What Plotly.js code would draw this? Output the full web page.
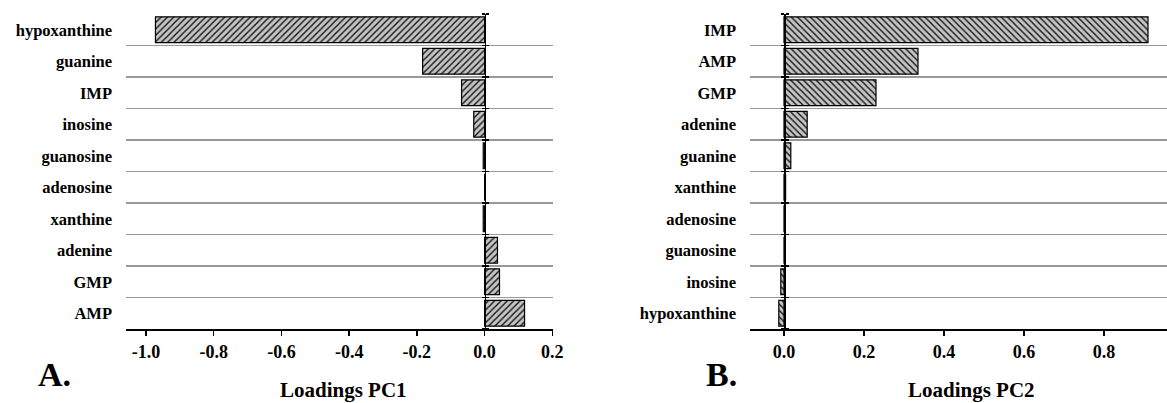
<!DOCTYPE html>
<html>
<head>
<meta charset="utf-8">
<script src="https://cdn.plot.ly/plotly-3.0.1.min.js"></script>
<style>html,body{margin:0;padding:0;background:#fff;}#chart{width:1167px;height:403px;}</style>
</head>
<body>
<div id="chart"></div>
<script>
// ---- data ----
const categoriesPC1 = ['hypoxanthine','guanine','IMP','inosine','guanosine','adenosine','xanthine','adenine','GMP','AMP'];
const loadingsPC1 = [-0.972, -0.183, -0.068, -0.032, -0.004, 0.001, -0.004, 0.038, 0.044, 0.118];
const categoriesPC2 = ['IMP','AMP','GMP','adenine','guanine','xanthine','adenosine','guanosine','inosine','hypoxanthine'];
const loadingsPC2 = [0.910, 0.335, 0.230, 0.058, 0.017, 0.004, 0.003, 0.001, -0.008, -0.013];
const ticksPC1 = [-1.0, -0.8, -0.6, -0.4, -0.2, 0.0, 0.2];
const tickTextPC1 = ['-1.0', '-0.8', '-0.6', '-0.4', '-0.2', '0.0', '0.2'];
const ticksPC2 = [0.0, 0.2, 0.4, 0.6, 0.8];
const tickTextPC2 = ['0.0', '0.2', '0.4', '0.6', '0.8'];
const axisTitles = ['Loadings PC1', 'Loadings PC2'];
const panelLabels = ['A.', 'B.'];

// ---- layout helpers ----
const W = 1167;
const FONT = '"Liberation Serif", "Times New Roman", Times, serif';
const r1 = [-1.059, 0.202];
const r2 = [-0.085, 0.9575];
const d1 = [126 / W, 553 / W];
const d2 = [750 / W, 1];
const zeroPos = (r, d) => d[0] + (0 - r[0]) / (r[1] - r[0]) * (d[1] - d[0]);
const boundaries = categoriesPC1.map((_, i) => i - 0.5).concat([categoriesPC1.length - 0.5]);

const barStyle = (shape) => ({
  color: '#c4c4c4',
  line: {color: '#000', width: 1.2},
  pattern: {shape: shape, fgcolor: '#111', bgcolor: '#c4c4c4', size: 4.5, solidity: 0.3}
});

const traces = [
  {type: 'bar', orientation: 'h', x: loadingsPC1, y: categoriesPC1, xaxis: 'x', yaxis: 'y',
   marker: barStyle('/'), width: 0.82, hoverinfo: 'x+y'},
  {type: 'bar', orientation: 'h', x: loadingsPC2, y: categoriesPC2, xaxis: 'x2', yaxis: 'y2',
   marker: barStyle('\\'), width: 0.82, hoverinfo: 'x+y'}
];
// invisible anchor traces so the zero-line tick axes get drawn
[['x', 'y3'], ['x', 'y4'], ['x2', 'y5'], ['x2', 'y6']].forEach(([xa, ya]) => {
  traces.push({type: 'scatter', mode: 'markers', x: [0], y: [0], xaxis: xa, yaxis: ya,
               marker: {opacity: 0, size: 1}, hoverinfo: 'skip', showlegend: false});
});

const xCommon = {
  showgrid: false, zeroline: false, showline: true, linecolor: '#000', linewidth: 1.5,
  ticks: 'outside', ticklen: 5, tickwidth: 1.5, tickcolor: '#000',
  ticklabelstandoff: 1,
  tickfont: {family: FONT, size: 18, color: '#000', weight: 'bold'}
};
const yCommon = {
  type: 'category', autorange: 'reversed', tickson: 'boundaries', ticks: '',
  showgrid: true, gridcolor: '#999', gridwidth: 1.3, zeroline: false, showline: false,
  ticklabelstandoff: 13,
  tickfont: {family: FONT, size: 16.5, color: '#000', weight: 'bold'}
};
const tickAxis = (overlay, pos, side) => ({
  overlaying: overlay, anchor: 'free', position: pos, side: side,
  range: [boundaries[boundaries.length - 1], boundaries[0]], autorange: false,
  tickmode: 'array', tickvals: boundaries, showticklabels: false,
  ticks: 'outside', ticklen: 3, tickwidth: 1.3, tickcolor: '#000',
  showgrid: false, zeroline: false, showline: true, linecolor: '#000', linewidth: 1.5
});

const layout = {
  width: 1167, height: 403,
  margin: {l: 0, r: 0, t: 14, b: 74},
  paper_bgcolor: '#fff', plot_bgcolor: 'rgba(0,0,0,0)',
  showlegend: false, bargap: 0.18,
  font: {family: FONT, color: '#000'},
  xaxis: Object.assign({}, xCommon, {domain: d1, range: r1, anchor: 'y', tickmode: 'array', tickvals: ticksPC1, ticktext: tickTextPC1}),
  xaxis2: Object.assign({}, xCommon, {domain: d2, range: r2, anchor: 'y2', tickmode: 'array', tickvals: ticksPC2, ticktext: tickTextPC2}),
  yaxis: Object.assign({}, yCommon, {anchor: 'x'}),
  yaxis2: Object.assign({}, yCommon, {anchor: 'x2'}),
  yaxis3: tickAxis('y', zeroPos(r1, d1), 'left'),
  yaxis4: tickAxis('y', zeroPos(r1, d1), 'right'),
  yaxis5: tickAxis('y2', zeroPos(r2, d2), 'left'),
  yaxis6: tickAxis('y2', zeroPos(r2, d2), 'right'),
  annotations: [
    {text: axisTitles[0], xref: 'paper', yref: 'paper', x: 343 / W, y: (329 - 390) / 315, xanchor: 'center', yanchor: 'middle', showarrow: false,
     font: {family: FONT, size: 21, color: '#000', weight: 'bold'}},
    {text: axisTitles[1], xref: 'paper', yref: 'paper', x: 971 / W, y: (329 - 390) / 315, xanchor: 'center', yanchor: 'middle', showarrow: false,
     font: {family: FONT, size: 21, color: '#000', weight: 'bold'}},
    {text: panelLabels[0], xref: 'paper', yref: 'paper', x: 54 / W, y: (329 - 374) / 315, xanchor: 'center', yanchor: 'middle', showarrow: false,
     font: {family: FONT, size: 34, color: '#000', weight: 'bold'}},
    {text: panelLabels[1], xref: 'paper', yref: 'paper', x: 721 / W, y: (329 - 374) / 315, xanchor: 'center', yanchor: 'middle', showarrow: false,
     font: {family: FONT, size: 34, color: '#000', weight: 'bold'}}
  ]
};

Plotly.newPlot('chart', traces, layout, {displayModeBar: false, staticPlot: true});
</script>
</body>
</html>
